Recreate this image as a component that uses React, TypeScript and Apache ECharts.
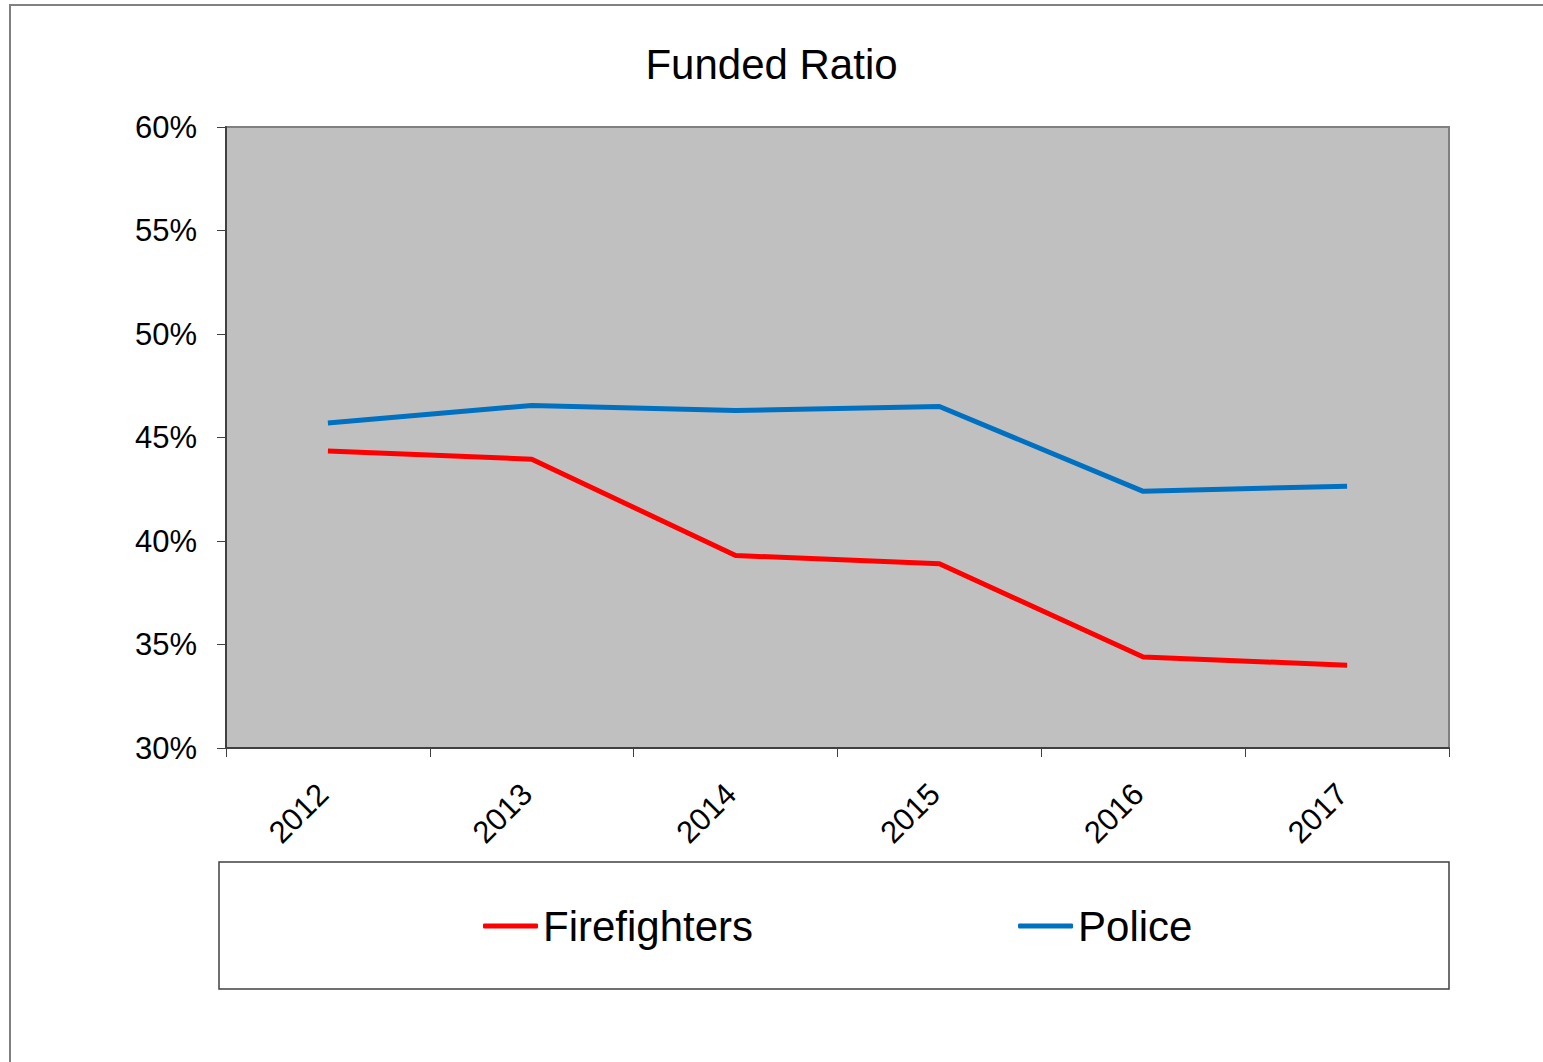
import React, { useEffect, useRef } from "react";
import * as echarts from "echarts";

const years = ["2012", "2013", "2014", "2015", "2016", "2017"];
const firefighters = [44.35, 43.95, 39.3, 38.9, 34.4, 34.0];
const police = [45.7, 46.55, 46.3, 46.5, 42.4, 42.65];
const yTicks = { min: 30, max: 60, interval: 5 };
const FONT = "'Liberation Sans', Arial, sans-serif";

export default function App() {
  const ref = useRef<HTMLDivElement>(null);
  useEffect(() => {
    if (!ref.current) return;
    const chart = echarts.init(ref.current, undefined, { renderer: "svg" });
    chart.setOption({
      animation: false,
      backgroundColor: "#ffffff",
      title: {
        text: "Funded Ratio",
        left: "center",
        top: 43,
        padding: 0,
        textStyle: { fontFamily: FONT, fontSize: 42, fontWeight: "normal", color: "#000" },
      },
      graphic: [
        {
          type: "rect",
          shape: { x: 10, y: 5, width: 1700, height: 1200 },
          style: { fill: "none", stroke: "#808080", lineWidth: 2 },
          silent: true,
        },
        {
          type: "rect",
          shape: { x: 219, y: 862, width: 1230, height: 127 },
          style: { fill: "none", stroke: "#404040", lineWidth: 1.5 },
          silent: true,
        },
      ],
      legend: {
        left: 483,
        top: 905,
        padding: 0,
        itemGap: 265,
        itemWidth: 55,
        itemHeight: 5,
        icon: "roundRect",
        textStyle: { fontFamily: FONT, fontSize: 42, color: "#000", padding: [0, 0, 0, 0] },
        data: ["Firefighters", "Police"],
      },
      grid: {
        left: 226,
        top: 127,
        width: 1223,
        height: 621,
        show: true,
        backgroundColor: "#c0c0c0",
        borderColor: "#808080",
        borderWidth: 2,
      },
      xAxis: {
        type: "category",
        data: years,
        boundaryGap: true,
        axisLine: { show: true, lineStyle: { color: "#404040", width: 2 } },
        axisTick: { show: true, length: 9, alignWithLabel: false, lineStyle: { color: "#404040", width: 1 } },
        axisLabel: {
          rotate: 45,
          margin: 36,
          padding: [0, 7, 0, 0],
          fontFamily: FONT,
          fontSize: 31,
          color: "#000",
        },
        splitLine: { show: false },
      },
      yAxis: {
        type: "value",
        min: yTicks.min,
        max: yTicks.max,
        interval: yTicks.interval,
        axisLine: { show: true, lineStyle: { color: "#404040", width: 2 } },
        axisTick: { show: true, length: 9, lineStyle: { color: "#404040", width: 1 } },
        axisLabel: { formatter: "{value}%", margin: 29, fontFamily: FONT, fontSize: 31, color: "#000" },
        splitLine: { show: false },
      },
      series: [
        {
          name: "Firefighters",
          type: "line",
          data: firefighters,
          symbol: "none",
          color: "#ff0000",
          lineStyle: { color: "#ff0000", width: 5 },
        },
        {
          name: "Police",
          type: "line",
          data: police,
          symbol: "none",
          color: "#0070c0",
          lineStyle: { color: "#0070c0", width: 5 },
        },
      ],
    });
    return () => chart.dispose();
  }, []);
  return (
    <div
      ref={ref}
      style={{ position: "fixed", left: 0, top: 0, width: 1543, height: 1062 }}
    />
  );
}
